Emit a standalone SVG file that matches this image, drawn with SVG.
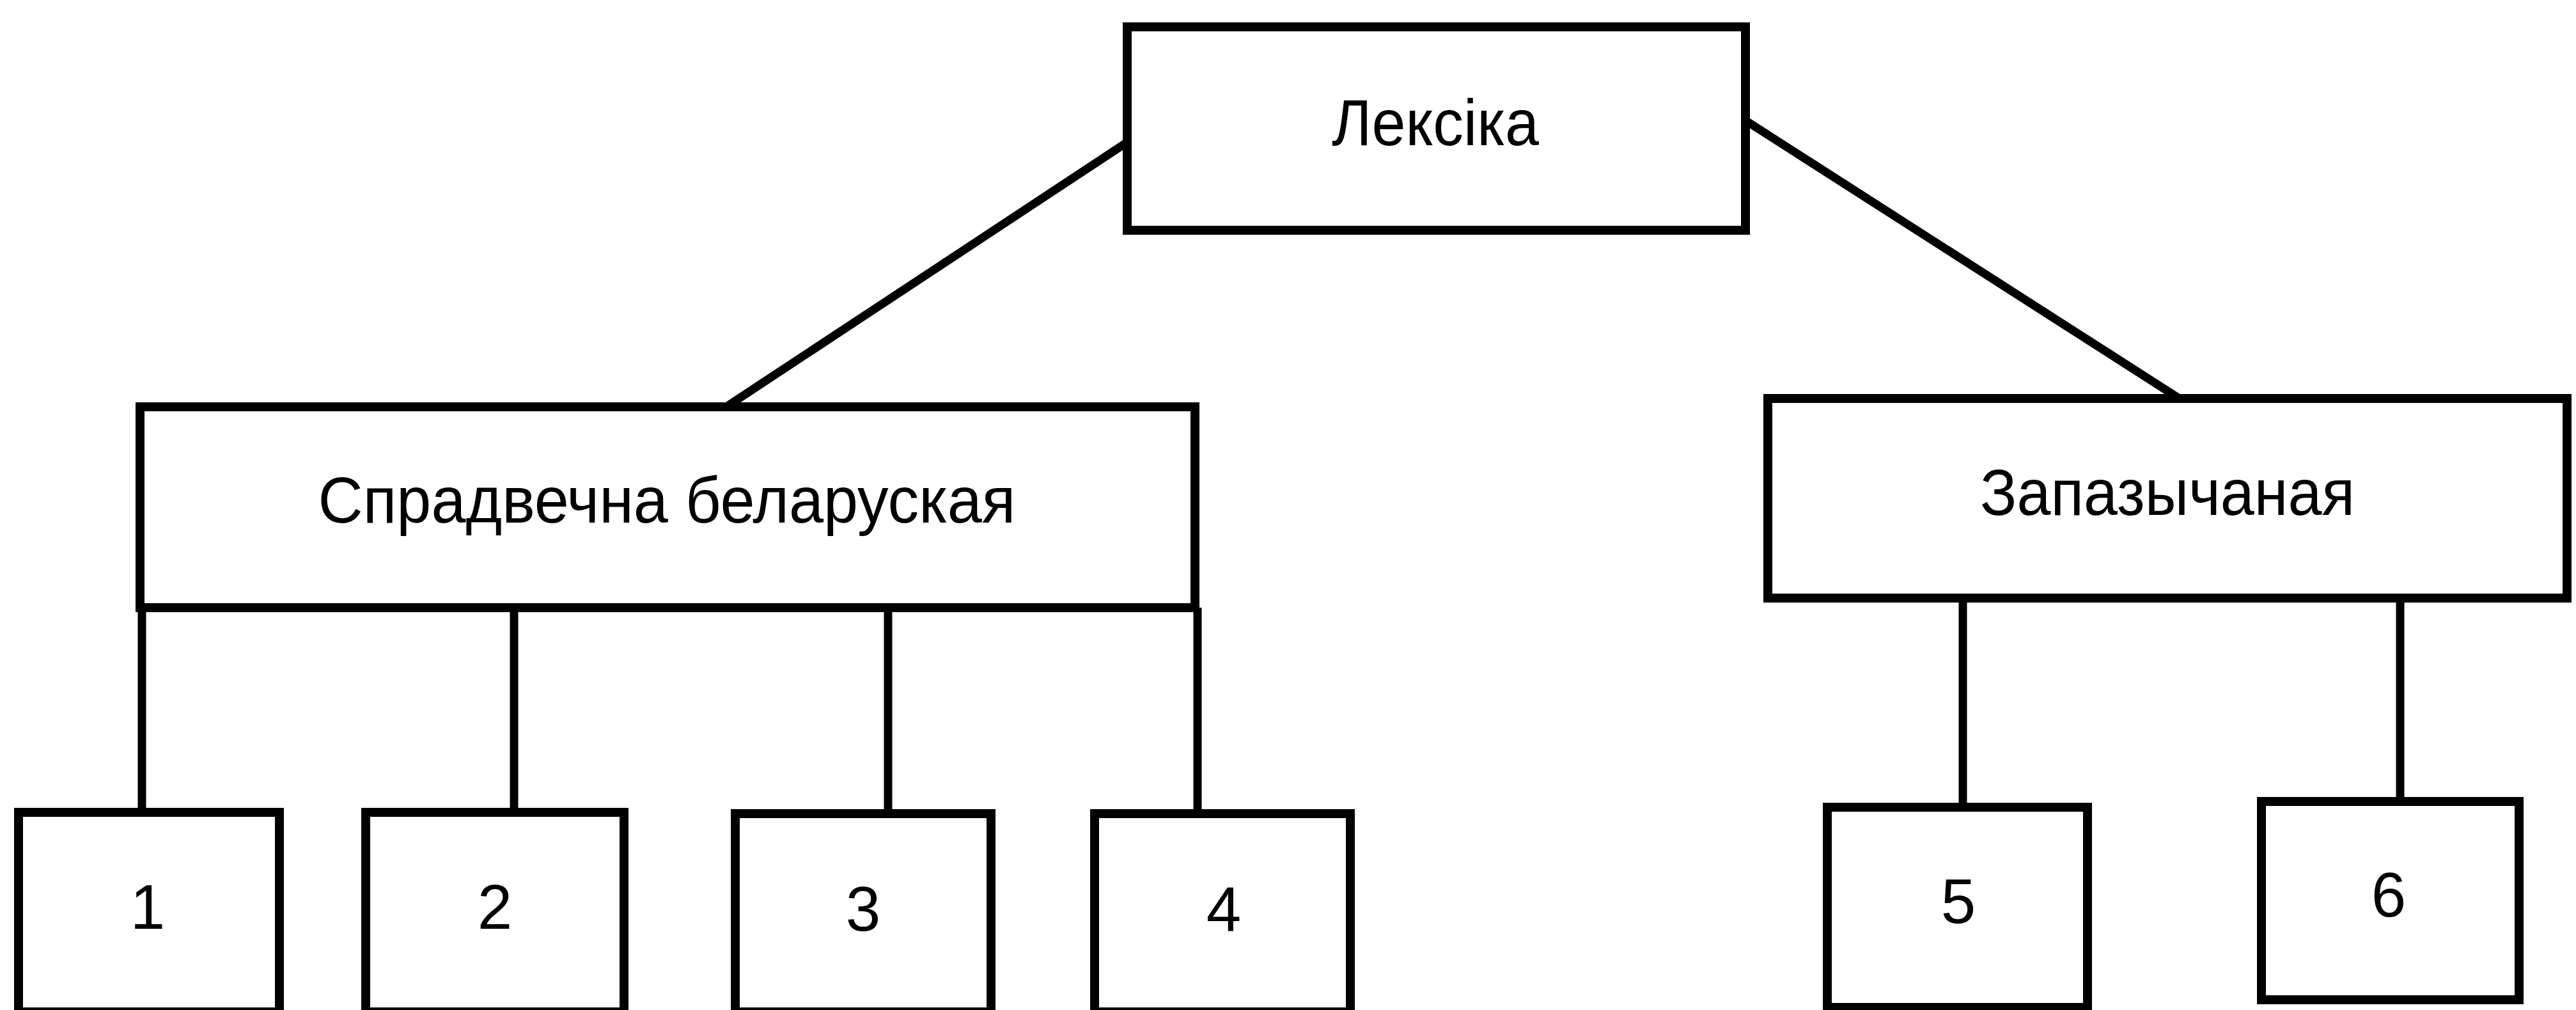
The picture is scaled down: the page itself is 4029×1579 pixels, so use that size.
<svg xmlns="http://www.w3.org/2000/svg" width="4029" height="1579" viewBox="0 0 4029 1579">
  <style>
    .box { fill: #ffffff; stroke: #000000; stroke-width: 14; stroke-linejoin: miter; }
    .link { stroke: #000000; stroke-width: 13; fill: none; stroke-linecap: butt; }
    .lbl { font-family: "Liberation Sans", Arial, Helvetica, sans-serif; font-size: 102px; fill: #000000; text-anchor: middle; }
    .num { font-family: "Liberation Sans", Arial, Helvetica, sans-serif; font-size: 98px; fill: #000000; text-anchor: middle; }
  </style>
  <rect width="4029" height="1579" fill="#ffffff"/>

  <g id="connectors">
    <line class="link" x1="1765" y1="221" x2="1133" y2="638"/>
    <line class="link" x1="2731" y1="189" x2="3410" y2="624"/>
    <line class="link" x1="222" y1="950" x2="222" y2="1270"/>
    <line class="link" x1="804" y1="950" x2="804" y2="1270"/>
    <line class="link" x1="1389" y1="950" x2="1389" y2="1272"/>
    <line class="link" x1="1873" y1="950" x2="1873" y2="1272"/>
    <line class="link" x1="3070" y1="935" x2="3070" y2="1262"/>
    <line class="link" x1="3754" y1="930" x2="3754" y2="1253"/>
  </g>

  <g id="node-leksika">
    <rect class="box" x="1763" y="42" width="967" height="318"/>
    <text class="lbl" x="2245" y="227" textLength="324" lengthAdjust="spacingAndGlyphs">Лексіка</text>
  </g>

  <g id="node-spradvechna">
    <rect class="box" x="219" y="636" width="1650" height="314"/>
    <text class="lbl" x="1043" y="817" textLength="1091" lengthAdjust="spacingAndGlyphs">Спрадвечна беларуская</text>
  </g>

  <g id="node-zapazychanaya">
    <rect class="box" x="2765" y="623" width="1250" height="312"/>
    <text class="lbl" x="3390" y="805" textLength="586" lengthAdjust="spacingAndGlyphs">Запазычаная</text>
  </g>

  <g id="node-1">
    <rect class="box" x="29" y="1270" width="408" height="312"/>
    <text class="num" x="231" y="1452">1</text>
  </g>
  <g id="node-2">
    <rect class="box" x="572" y="1270" width="404" height="312"/>
    <text class="num" x="774" y="1452">2</text>
  </g>
  <g id="node-3">
    <rect class="box" x="1150" y="1272" width="400" height="310"/>
    <text class="num" x="1350" y="1455">3</text>
  </g>
  <g id="node-4">
    <rect class="box" x="1712" y="1272" width="400" height="310"/>
    <text class="num" x="1914" y="1455">4</text>
  </g>
  <g id="node-5">
    <rect class="box" x="2858" y="1262" width="407" height="313"/>
    <text class="num" x="3063" y="1443">5</text>
  </g>
  <g id="node-6">
    <rect class="box" x="3537" y="1253" width="403" height="310"/>
    <text class="num" x="3736" y="1433">6</text>
  </g>
</svg>
